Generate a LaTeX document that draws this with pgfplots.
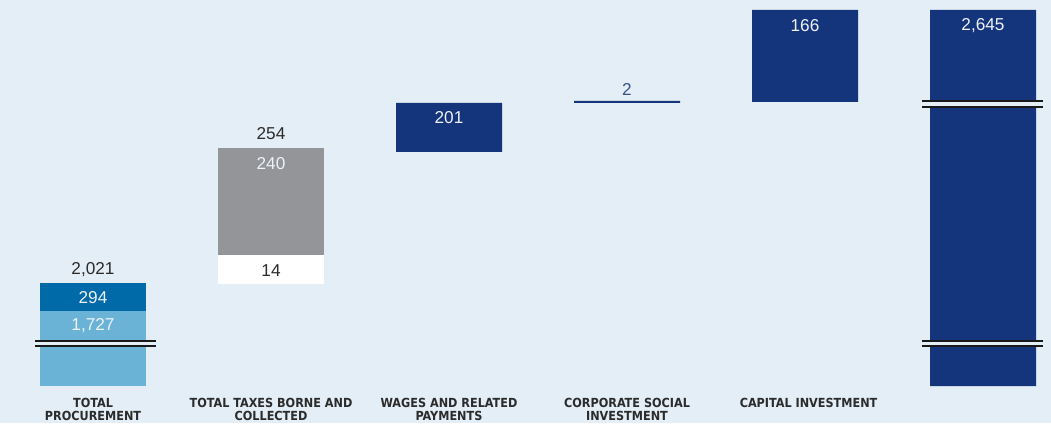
\documentclass[border=0pt]{standalone}
\usepackage{fontspec}
\setmainfont{Liberation Sans}
\newfontfamily\catfont{DejaVu Sans Condensed Bold}
\usepackage{pgfplots}
\pgfplotsset{compat=1.18}
\definecolor{bg}{HTML}{E3EEF6}
\definecolor{lightseg}{HTML}{6AB2D6}
\definecolor{medseg}{HTML}{0069A7}
\definecolor{navy}{HTML}{14357B}
\definecolor{greyseg}{HTML}{939598}
\definecolor{txt}{HTML}{2B2B2B}
\definecolor{wtxt}{HTML}{EEF2F8}
\tikzset{
  val/.style={font=\fontsize{17.2}{18}\selectfont, inner sep=0pt},
  cat/.style={font=\catfont\fontsize{12.5}{13}\selectfont, text=txt, align=center, anchor=north, inner sep=0pt},
  brk/.style={black!90, line width=1.2pt},
}
\begin{document}
\begin{tikzpicture}
\begin{axis}[
  x=178pt, y=1pt,
  xmin=-0.52247, xmax=5.38202,
  ymin=-37, ymax=386,
  hide axis, clip=false,
  ybar stacked, bar width=106pt,
  axis background/.style={fill=bg},
  after end axis/.append code={
    % axis breaks
    \fill[bg] (axis cs:-0.326,40) rectangle (axis cs:0.354,45);
    \draw[brk] (axis cs:-0.326,40) -- (axis cs:0.354,40) (axis cs:-0.326,45) -- (axis cs:0.354,45);
    \fill[bg] (axis cs:4.657,40) rectangle (axis cs:5.337,45);
    \draw[brk] (axis cs:4.657,40) -- (axis cs:5.337,40) (axis cs:4.657,45) -- (axis cs:5.337,45);
    \fill[bg] (axis cs:4.657,279) rectangle (axis cs:5.337,285);
    \draw[brk] (axis cs:4.657,279) -- (axis cs:5.337,279) (axis cs:4.657,285) -- (axis cs:5.337,285);
    % value labels
    \node[val, txt] at (axis cs:0,116.5) {2,021};
    \node[val, wtxt] at (axis cs:0,88) {294};
    \node[val, wtxt] at (axis cs:0,60) {1,727};
    \node[val, txt] at (axis cs:1,252) {254};
    \node[val, wtxt] at (axis cs:1,222) {240};
    \node[val, txt] at (axis cs:1,115) {14};
    \node[val, wtxt] at (axis cs:2,268) {201};
    \node[val, navy!85] at (axis cs:3,297) {2};
    \node[val, wtxt] at (axis cs:4,360) {166};
    \node[val, wtxt] at (axis cs:5,360) {2,645};
    % category labels
    \node[cat] at (axis cs:0,-12) {TOTAL\\PROCUREMENT};
    \node[cat] at (axis cs:1,-12) {TOTAL TAXES BORNE AND\\COLLECTED};
    \node[cat] at (axis cs:2,-12) {WAGES AND RELATED\\PAYMENTS};
    \node[cat] at (axis cs:3,-12) {CORPORATE SOCIAL\\INVESTMENT};
    \node[cat] at (axis cs:4.02,-12) {CAPITAL INVESTMENT};
  },
]
% display heights (chart is drawn not to scale; printed values are in the labels)
\addplot[draw=none, fill opacity=0] coordinates {(0,0) (1,102) (2,234) (3,283) (4,284) (5,0)};
\addplot[draw=none, fill=lightseg] coordinates {(0,75) (1,0) (2,0) (3,0) (4,0) (5,0)};
\addplot[draw=none, fill=white] coordinates {(0,0) (1,29) (2,0) (3,0) (4,0) (5,0)};
\addplot[draw=none, fill=navy] coordinates {(0,0) (1,0) (2,49) (3,2) (4,92) (5,376)};
\addplot[draw=none, fill=medseg] coordinates {(0,28) (1,0) (2,0) (3,0) (4,0) (5,0)};
\addplot[draw=none, fill=greyseg] coordinates {(0,0) (1,107) (2,0) (3,0) (4,0) (5,0)};
\end{axis}
\end{tikzpicture}
\end{document}
